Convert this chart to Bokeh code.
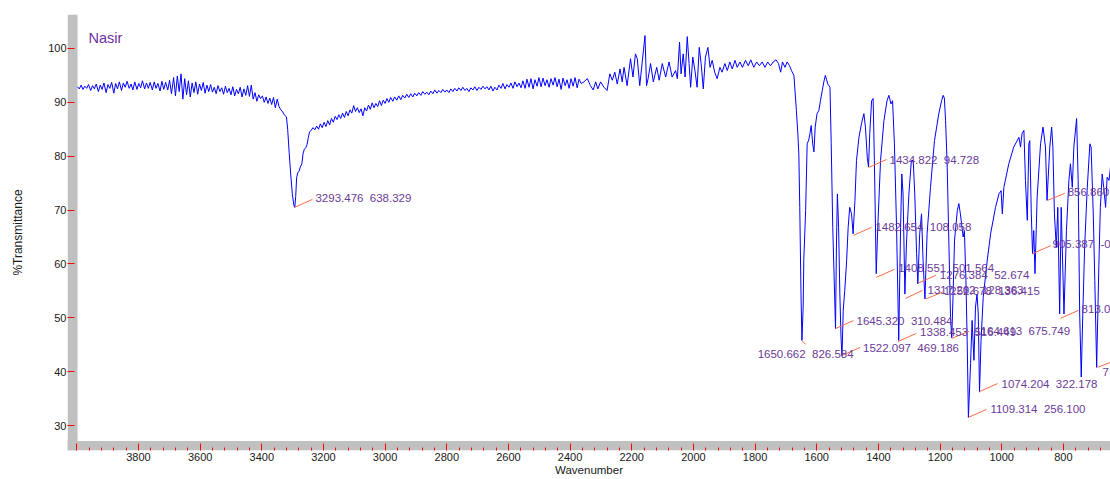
from bokeh.plotting import figure
from bokeh.models import Range1d, FixedTicker, BoxAnnotation, Label, ColumnDataSource
from bokeh.embed import file_html
from bokeh.resources import INLINE
from bokeh.core.properties import value

# ---------------- data ----------------
wavenumber = [
    3998, 3992, 3986, 3980, 3974, 3968, 3962, 3955, 3949, 3943, 3937, 3930, 3924, 3918, 3912, 3905,
    3899, 3893, 3887, 3880, 3874, 3868, 3862, 3855, 3849, 3843, 3837, 3830, 3824, 3818, 3812, 3805,
    3799, 3793, 3787, 3780, 3774, 3768, 3762, 3755, 3749, 3743, 3737, 3730, 3724, 3718, 3712, 3705,
    3699, 3693, 3686, 3680, 3674, 3668, 3662, 3656, 3650, 3644, 3638, 3632, 3626, 3620, 3614, 3608,
    3602, 3596, 3590, 3584, 3578, 3572, 3566, 3560, 3554, 3548, 3542, 3536, 3530, 3524, 3518, 3512,
    3506, 3500, 3494, 3488, 3482, 3476, 3470, 3464, 3458, 3452, 3446, 3440, 3434, 3428, 3422, 3416,
    3410, 3404, 3398, 3392, 3386, 3380, 3374, 3368, 3362, 3356, 3350, 3344, 3338, 3332, 3326, 3320,
    3316, 3311, 3306, 3301, 3296, 3293, 3290, 3287, 3283, 3279, 3275, 3270, 3266, 3262, 3257, 3253,
    3249, 3245, 3240, 3234, 3228, 3222, 3216, 3210, 3204, 3198, 3192, 3186, 3180, 3174, 3168, 3162,
    3156, 3150,
    3144, 3138, 3132, 3126, 3120, 3114, 3108, 3102, 3096, 3090, 3084, 3078, 3072, 3066, 3060, 3054,
    3048, 3042, 3036, 3030, 3024, 3018, 3012, 3006, 3000, 2994, 2988, 2982, 2975, 2969, 2962, 2956,
    2949, 2943, 2936, 2930, 2923, 2917, 2910, 2904, 2897, 2891, 2884, 2878, 2871, 2865, 2858, 2852,
    2845, 2839, 2832, 2826, 2819, 2813, 2806, 2800, 2793, 2787, 2780, 2774, 2767, 2761, 2754, 2748,
    2741, 2735, 2728, 2722, 2715, 2709, 2702, 2696, 2689, 2683, 2676, 2670, 2663, 2657, 2650, 2644,
    2637, 2631, 2624, 2618, 2611, 2605, 2598, 2592, 2585, 2579, 2572, 2566, 2559, 2553, 2546, 2540,
    2533, 2527, 2520, 2514, 2507, 2501, 2494, 2488, 2481, 2475, 2468, 2462, 2455, 2449, 2442, 2436,
    2429, 2423, 2416, 2410, 2403, 2397, 2390, 2384, 2377, 2371, 2364,
    2355, 2344, 2334, 2325, 2317, 2310, 2301, 2290, 2280, 2271, 2263, 2255, 2247, 2238, 2231, 2225,
    2215, 2204, 2196, 2188, 2182, 2174, 2166, 2157, 2152, 2147, 2139, 2130, 2119, 2111, 2101, 2090,
    2079, 2069, 2058, 2052, 2045, 2040, 2033, 2027, 2020, 2014, 2009, 2002, 1995, 1988, 1981, 1975,
    1968, 1961, 1953, 1946, 1939, 1931, 1923, 1914, 1907, 1898, 1890, 1882, 1874, 1865, 1858, 1849,
    1841, 1831, 1822, 1814, 1804, 1795, 1786, 1777, 1768, 1759, 1750, 1741, 1732, 1724, 1717, 1711,
    1703, 1696, 1688, 1682,
    1674, 1669, 1666, 1661, 1658, 1655, 1651, 1648, 1644, 1642, 1636, 1631, 1626, 1622, 1618, 1613,
    1609, 1605, 1599, 1593, 1588, 1582, 1577, 1572, 1568, 1564, 1557, 1553, 1548, 1542, 1539, 1536,
    1533, 1529, 1525, 1521, 1518, 1514, 1509, 1503, 1498, 1493, 1487, 1482, 1476, 1471, 1463, 1455,
    1447, 1442, 1436, 1432, 1428, 1422, 1417, 1413, 1407, 1402, 1393, 1382, 1372, 1366, 1359, 1354,
    1348, 1341, 1334, 1328, 1324, 1320, 1314, 1309, 1301, 1293, 1287, 1282, 1276, 1272, 1266, 1260,
    1255, 1249, 1242, 1231, 1218, 1204, 1195, 1190,
    1186, 1182, 1177, 1171, 1166, 1162, 1158, 1153, 1144, 1139, 1134, 1125, 1121, 1116, 1112, 1108,
    1101, 1096, 1090, 1085, 1080, 1076, 1072, 1067, 1060, 1047, 1036, 1020, 1009, 1002, 998, 993,
    977, 961, 944, 939, 934, 928, 923, 917, 912, 909, 904, 900, 896, 892, 885, 874,
    866, 858, 853, 844, 838, 834, 829, 823, 818, 812, 807, 798, 790, 782, 777, 771,
    766, 757, 752, 747, 742, 737, 731, 723, 714, 710, 703, 698, 692, 685, 680, 674,
    669, 663, 658, 652, 647,
]
transmittance = [
    92.9, 92.5, 93.2, 92.4, 93.0, 92.6, 93.3, 92.2, 93.1, 92.5, 93.4, 92.0, 93.2, 92.4, 93.6, 91.8,
    93.3, 92.6, 93.7, 91.7, 93.5, 92.5, 93.8, 92.2, 93.6, 92.8, 93.9, 92.6, 93.4, 92.3, 93.8, 92.4,
    93.5, 92.7, 94.0, 92.5, 93.6, 92.6, 93.7, 92.3, 93.8, 92.6, 93.5, 92.1, 93.9, 92.4, 93.7, 92.3,
    94.1, 91.6, 94.6, 91.2, 94.9, 92.0, 95.3, 90.6, 94.4, 91.4, 94.0, 91.0, 93.6, 91.8, 93.8, 91.5,
    93.4, 92.2, 93.7, 91.7, 93.2, 92.0, 93.3, 91.9, 92.8, 91.6, 93.1, 92.0, 92.7, 91.5, 93.0, 91.8,
    92.6, 91.4, 92.9, 91.2, 92.4, 91.6, 92.8, 91.0, 92.5, 91.3, 93.1, 91.1, 93.2, 90.6, 91.8, 90.2,
    91.4, 90.7, 91.2, 90.0, 91.0, 89.8, 90.8, 89.6, 90.9, 89.0, 90.6, 89.2, 88.6, 88.2, 87.6, 87.3,
    85.0, 80.5, 76.5, 73.0, 70.9, 70.5, 72.5, 76.0, 77.0, 77.2, 78.0, 78.6, 80.5, 81.3, 81.6, 82.2,
    83.5, 84.5, 84.8, 85.3, 84.9, 85.6, 85.0, 86.0, 85.3, 86.3, 85.5, 86.6, 85.8, 87.0, 86.3, 87.4,
    86.8, 87.7,
    87.0, 88.0, 87.2, 88.3, 87.5, 88.6, 88.0, 89.4, 88.3, 89.0, 88.1, 88.8, 87.5, 89.0, 88.4, 89.5,
    88.7, 89.9, 89.0, 89.8, 89.2, 90.3, 89.4, 90.4, 89.8, 90.7, 90.0, 90.9, 90.2, 91.0, 90.4, 91.2,
    90.5, 91.3, 90.8, 91.5, 90.9, 91.6, 91.0, 91.7, 91.2, 91.8, 91.3, 92.0, 91.5, 91.9, 91.4, 92.1,
    91.6, 92.3, 91.7, 92.2, 91.8, 92.4, 91.9, 92.3, 91.8, 92.5, 92.0, 92.6, 92.1, 92.7, 92.2, 92.8,
    92.2, 92.6, 92.0, 92.7, 92.3, 92.9, 92.2, 92.8, 92.4, 93.0, 92.5, 92.9, 92.3, 93.0, 92.1, 92.8,
    92.3, 93.2, 92.6, 93.5, 92.5, 93.3, 92.8, 93.6, 92.6, 93.8, 92.9, 93.6, 92.7, 94.0, 92.6, 94.3,
    92.8, 94.4, 92.5, 94.2, 93.0, 94.6, 92.9, 94.5, 93.1, 94.2, 92.8, 94.4, 93.2, 94.6, 92.9, 94.3,
    92.4, 94.5, 93.1, 94.2, 92.6, 94.4, 93.0, 94.6, 92.7, 94.3, 93.5,
    93.8, 94.4, 93.1, 92.3, 93.8, 92.5, 93.8, 92.8, 92.2, 95.3, 94.1, 95.6, 93.4, 96.2, 93.8, 96.5,
    93.1, 98.1, 94.7, 99.0, 98.1, 93.1, 97.5, 102.4, 93.1, 94.4, 97.2, 93.8, 96.5, 94.1, 97.2, 94.7,
    97.5, 94.7, 95.9, 94.4, 101.2, 95.3, 99.0, 94.7, 102.2, 97.2, 92.8, 98.4, 95.9, 92.8, 100.2, 97.2,
    92.5, 98.4, 100.2, 96.5, 97.8, 95.6, 94.4, 96.5, 95.6, 97.2, 95.9, 97.5, 96.2, 97.8, 96.5, 97.5,
    96.5, 97.8, 96.8, 97.9, 96.5, 97.5, 96.8, 97.5, 96.5, 97.5, 96.8, 97.5, 97.9, 97.2, 95.6, 97.5,
    96.5, 97.5, 96.8, 95.9,
    95.0, 91.0, 88.5, 84.0, 80.4, 70.5, 54.4, 45.8, 52.0, 60.6, 69.9, 82.3, 83.0, 84.2, 85.7, 82.3,
    80.8, 85.4, 87.9, 88.5, 90.3, 92.2, 93.8, 95.0, 94.2, 93.4, 92.8, 82.3, 66.8, 54.4, 48.0, 63.7,
    73.0, 66.8, 54.4, 46.0, 43.0, 51.4, 55.1, 60.6, 66.8, 70.5, 69.3, 65.6, 71.8, 79.2, 83.5, 86.0,
    87.9, 85.4, 79.8, 78.0, 84.2, 90.3, 90.7, 79.2, 58.2, 66.8, 79.2, 86.6, 90.3, 91.3, 89.7, 90.3,
    82.3, 66.8, 45.8, 66.8, 76.7, 73.0, 54.4, 63.7, 73.0, 79.2, 79.2, 73.0, 61.9, 56.3, 65.6, 69.3,
    60.6, 53.5, 65.6, 74.2, 82.9, 87.9, 90.3, 91.3,
    90.8, 86.6, 78.6, 63.1, 50.0, 46.3, 53.8, 64.4, 69.9, 71.2, 69.3, 65.0, 66.2, 56.9, 45.8, 31.5,
    41.5, 49.5, 42.1, 52.0, 54.4, 50.7, 36.2, 45.8, 53.8, 60.6, 65.6, 70.5, 73.0, 73.6, 69.3, 74.2,
    78.6, 81.7, 83.5, 81.7, 84.2, 84.8, 75.5, 68.1, 82.3, 82.9, 69.3, 61.9, 66.2, 58.2, 72.4, 82.3,
    85.4, 81.7, 71.8, 81.7, 85.4, 81.7, 69.3, 63.1, 70.5, 50.7, 70.5, 50.7, 66.2, 75.5, 78.6, 74.2,
    81.7, 87.0, 75.5, 50.7, 39.0, 50.7, 63.1, 73.6, 82.3, 81.7, 69.3, 56.9, 40.8, 59.4, 70.5, 76.7,
    74.2, 70.5, 76.1, 75.5, 78.0,
]

# peak markers (position of each leader's foot) and their texts
SEP = "\u00a0\u00a0"
peak_wn = [3294, 1649, 1539, 1518, 1481, 1432, 1407, 1272, 1312, 1246, 1336, 1161, 1108, 1072, 900, 851, 809, 689]
peak_t = [70.5, 45.8, 48.0, 43.0, 65.3, 77.9, 57.5, 56.4, 53.6, 53.5, 45.6, 46.2, 31.5, 36.3, 61.9, 71.8, 49.9, 40.8]
peak_text = [
    "3293.476" + SEP + "638.329", "1650.662" + SEP + "826.584", "1645.320" + SEP + "310.484",
    "1522.097" + SEP + "469.186", "1482.654" + SEP + "108.058", "1434.822" + SEP + "94.728",
    "1408.551" + SEP + "501.564", "1276.384" + SEP + "52.674", "1317.262" + SEP + "128.363",
    "1252.678" + SEP + "136.415", "1338.453" + SEP + "516.449", "1164.613" + SEP + "675.749",
    "1109.314" + SEP + "256.100", "1074.204" + SEP + "322.178", "905.387" + SEP + "-0",
    "856.860", "813.0", "7",
]

x_tick_values = [4000, 3800, 3600, 3400, 3200, 3000, 2800, 2600, 2400, 2200, 2000, 1800, 1600, 1400, 1200, 1000, 800]
y_tick_values = [30, 40, 50, 60, 70, 80, 90, 100]
sample_name = "Nasir"
x_title = "Wavenumber"
y_title = "%Transmittance"

# ---------------- styling / layout ----------------
W, H = 1110, 479
BL, BT, BB = 67, 14, 29
X0, X1 = 4030.2, 647.1
Y0, Y1 = 25.36, 106.31
frame_w = W - BL
frame_h = H - BT - BB
px_x = frame_w / (X0 - X1)
px_y = frame_h / (Y1 - Y0)

FONT = "Liberation Sans"
PURPLE = "#6b3a9a"
LEADER = "#ff6a45"
RED = "#ff0000"
INK = "#1a1a1a"

p = figure(width=W, height=H, output_backend="svg", toolbar_location=None,
           x_range=Range1d(X0, X1), y_range=Range1d(Y0, Y1),
           min_border_left=BL, min_border_right=0, min_border_top=BT, min_border_bottom=BB)
p.outline_line_color = None
p.grid.visible = False
p.background_fill_color = "white"
p.border_fill_color = "white"

# grey frame strips
p.add_layout(BoxAnnotation(right=X0 - 10 / px_x, fill_color="#c0c0c0", fill_alpha=1,
                           line_color=None, level="underlay"))
p.add_layout(BoxAnnotation(top=Y0 + 9.5 / px_y, fill_color="#c0c0c0", fill_alpha=1,
                           line_color=None, level="underlay"))

# axes
xa = p.xaxis[0]
minor = [t for t in range(4000, 600, -40) if t % 200 != 0]
xa.ticker = FixedTicker(ticks=x_tick_values, minor_ticks=minor)
xa.major_label_overrides = {4000: ""}
xa.axis_line_color = None
xa.major_tick_line_color = RED
xa.minor_tick_line_color = RED
xa.major_tick_in = 7
xa.major_tick_out = 0
xa.minor_tick_in = 3
xa.minor_tick_out = 0
xa.major_label_standoff = 2
xa.major_label_text_font = FONT
xa.major_label_text_font_size = "11px"
xa.major_label_text_color = INK
xa.axis_label = x_title
xa.axis_label_text_font = FONT
xa.axis_label_text_font_size = "11.5px"
xa.axis_label_text_font_style = "normal"
xa.axis_label_text_color = INK
xa.axis_label_standoff = 0

ya = p.yaxis[0]
ya.ticker = FixedTicker(ticks=y_tick_values, minor_ticks=[])
ya.axis_line_color = None
ya.major_tick_line_color = RED
ya.major_tick_in = 7
ya.major_tick_out = 0
ya.minor_tick_line_color = None
ya.major_label_standoff = 1
ya.major_label_text_font = FONT
ya.major_label_text_font_size = "11px"
ya.major_label_text_color = INK
ya.axis_label = y_title
ya.axis_label_text_font = FONT
ya.axis_label_text_font_size = "12px"
ya.axis_label_text_font_style = "normal"
ya.axis_label_text_color = INK
ya.axis_label_standoff = 20

# spectrum
p.line(wavenumber, transmittance, line_color="#0000ff", line_width=1)

# peak annotations (leader + label)
lead_dx = [18, 4, 18, 18, 18, 18, 18, 18, 17, 17, 18, 17, 18, 18, 18, 17, 18, 13]
lead_dy = [-8, 4, -8, -8, -8, -8, -8, -8, -8, -7, -8, -7, -8, -8, -8, -7, -8, -5]
text_dx = [21, 4, 21, 21, 22, 21, 22, 22, 22, 18, 22, 23, 22, 22, 20, 20, 21, 5]
text_dy = [-9, 14, -8, -7, -8, -8, -9, -8, -8, -8, -9, -7, -8, -8, -10, -8, -9, 5]
text_al = ["left", "center"] + ["left"] * 16

lx1 = [w - dx / px_x for w, dx in zip(peak_wn, lead_dx)]
ly1 = [t - dy / px_y for t, dy in zip(peak_t, lead_dy)]
src = ColumnDataSource(dict(x=peak_wn, y=peak_t, x1=lx1, y1=ly1, text=peak_text,
                            xo=text_dx, yo=text_dy, al=text_al))
p.segment("x", "y", "x1", "y1", source=src, line_color=LEADER, line_width=1)
p.text("x", "y", text="text", x_offset="xo", y_offset="yo", text_align="al",
       text_baseline="middle", text_color=PURPLE, text_font=value(FONT),
       text_font_size="11.5px", source=src)

p.add_layout(Label(x=X0 - 21 / px_x, y=Y1 - 23 / px_y, text=sample_name, text_baseline="middle",
                   text_font=FONT, text_font_size="14.5px", text_color="#7030a0"))

open("out.html", "w").write(file_html(p, INLINE))
